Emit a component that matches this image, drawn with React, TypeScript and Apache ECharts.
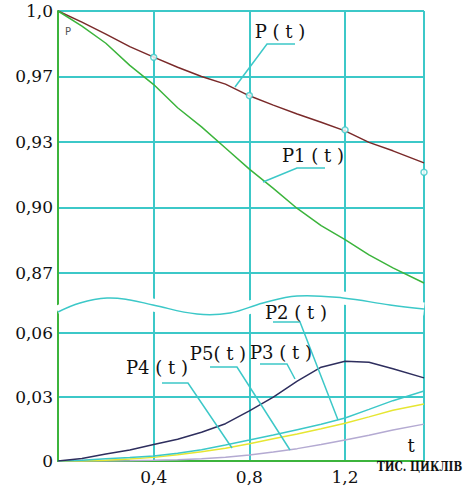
import React, { useEffect, useRef } from "react";
import * as echarts from "echarts";

// time, thousand cycles
const tValues = [0, 0.1, 0.2, 0.3, 0.4, 0.5, 0.6, 0.7, 0.8, 0.9, 1.0, 1.1, 1.2, 1.3, 1.4, 1.53];
const P = [1.0, 0.9945, 0.9885, 0.9823, 0.9771, 0.9721, 0.9675, 0.9637, 0.9579, 0.9533, 0.9489, 0.9448, 0.9405, 0.9348, 0.9306, 0.9246];
const P1 = [1.0, 0.9925, 0.984, 0.973, 0.9635, 0.952, 0.9425, 0.932, 0.9215, 0.912, 0.902, 0.8935, 0.8865, 0.879, 0.8725, 0.865];
const P2 = [0, 0.0004, 0.001, 0.0016, 0.0023, 0.0036, 0.0053, 0.0075, 0.0098, 0.0122, 0.0147, 0.0172, 0.0202, 0.0242, 0.0283, 0.0328];
const P3 = [0, 0.0012, 0.0033, 0.0052, 0.0077, 0.0102, 0.0135, 0.0175, 0.0235, 0.030, 0.0375, 0.044, 0.0468, 0.0463, 0.0433, 0.039];
const P4 = [0, 0, 0.0003, 0.0009, 0.0017, 0.0029, 0.0043, 0.006, 0.0081, 0.0104, 0.0127, 0.0151, 0.0177, 0.0207, 0.0238, 0.0267];
const P5 = [0, 0, 0, 0.0001, 0.0003, 0.0006, 0.0011, 0.0018, 0.0028, 0.0042, 0.0058, 0.0077, 0.0098, 0.0121, 0.0145, 0.0173];
const markerT = [0.4, 0.8, 1.2, 1.53];
const markerP = [0.977, 0.958, 0.941, 0.92];

const xTickValues = [0.4, 0.8, 1.2];
const xTickLabels = ["0,4", "0,8", "1,2"];
const xGridValues = [0.4, 0.8, 1.2, 1.53];
const upperTickValues = [0.87, 0.9025, 0.935, 0.9675, 1.0];
const upperTickLabels = ["0,87", "0,90", "0,93", "0,97", "1,0"];
const lowerTickValues = [0, 0.03, 0.06];
const lowerTickLabels = ["0", "0,03", "0,06"];
const lowerGridValues = [0.03, 0.06];

const SERIF = "DejaVu Serif";
const CYAN = "#3cc8c8";
const GREEN = "#3cb43c";

const lookup = (vals: number[], labels: string[]) => (v: number) => {
  const i = vals.findIndex((x) => Math.abs(x - v) < 1e-6);
  return i >= 0 ? labels[i] : "";
};

const pairs = (ys: number[]) => tValues.map((t, i) => [t, ys[i]]);

export default function App() {
  const ref = useRef<HTMLDivElement>(null);
  useEffect(() => {
    if (!ref.current) return;
    const chart = echarts.init(ref.current, undefined, { renderer: "svg" });
    const wave = [
      [58, 312], [80, 303], [107, 298], [130, 300], [153, 305], [197, 314], [230, 313],
      [263, 303], [297, 296], [343, 298], [390, 305], [424, 309],
    ];
    const labelStyle = (text: string) => ({
      text,
      fontFamily: SERIF,
      fontSize: 18,
      fill: "#111",
      textAlign: "center",
      textVerticalAlign: "middle",
    });
    const leader = (pts: number[][]) => ({
      type: "polyline",
      z: 120,
      shape: { points: pts },
      style: { stroke: CYAN, lineWidth: 1.5, fill: "none" },
    });
    const line = (name: string, ys: number[], color: string, idx: number) => ({
      name,
      type: "line",
      xAxisIndex: idx,
      yAxisIndex: idx,
      data: pairs(ys),
      showSymbol: false,
      symbol: "none",
      lineStyle: { color, width: 1.5 },
      itemStyle: { color },
      z: 5,
    });
    const yLabel = {
      fontFamily: SERIF,
      fontSize: 17,
      color: "#111",
      margin: 5,
    };
    chart.setOption({
      animation: false,
      backgroundColor: "#fff",
      grid: [
        { left: 58, right: 45, top: 11, height: 299 },
        { left: 58, right: 45, top: 306, height: 155 },
      ],
      xAxis: [
        {
          type: "value",
          gridIndex: 0,
          min: 0,
          max: 1.53,
          axisLine: { show: false },
          axisTick: { show: false, customValues: xGridValues },
          axisLabel: { show: false },
          splitLine: { show: true, lineStyle: { color: CYAN, width: 2 } },
        },
        {
          type: "value",
          gridIndex: 1,
          min: 0,
          max: 1.53,
          axisLine: { show: true, onZero: false, lineStyle: { color: GREEN, width: 2 } },
          axisTick: { show: false, customValues: xGridValues },
          axisLabel: {
            customValues: xTickValues,
            formatter: lookup(xTickValues, xTickLabels),
            fontFamily: SERIF,
            fontSize: 17,
            color: "#111",
            margin: 7,
          },
          splitLine: { show: true, lineStyle: { color: CYAN, width: 2 } },
        },
      ],
      yAxis: [
        {
          type: "value",
          gridIndex: 0,
          min: 0.8516,
          max: 1.0,
          axisLine: { show: true, onZero: false, lineStyle: { color: GREEN, width: 2 } },
          axisTick: { show: false, customValues: upperTickValues },
          axisLabel: {
            ...yLabel,
            customValues: upperTickValues,
            formatter: lookup(upperTickValues, upperTickLabels),
          },
          splitLine: { show: true, lineStyle: { color: CYAN, width: 2 } },
        },
        {
          type: "value",
          gridIndex: 1,
          min: 0,
          max: 0.0727,
          axisLine: { show: true, onZero: false, lineStyle: { color: GREEN, width: 2 } },
          axisTick: { show: false, customValues: lowerGridValues },
          axisLabel: {
            ...yLabel,
            customValues: lowerTickValues,
            formatter: lookup(lowerTickValues, lowerTickLabels),
          },
          splitLine: { show: true, lineStyle: { color: CYAN, width: 2 } },
        },
      ],
      series: [
        line("P(t)", P, "#7a2a2a", 0),
        line("P1(t)", P1, GREEN, 0),
        {
          name: "P points",
          type: "scatter",
          xAxisIndex: 0,
          yAxisIndex: 0,
          data: markerT.map((t, i) => [t, markerP[i]]),
          symbol: "circle",
          symbolSize: 6,
          itemStyle: { color: "#fff", borderColor: CYAN, borderWidth: 1.5 },
          z: 6,
        },
        line("P5(t)", P5, "#b4aad2", 1),
        line("P4(t)", P4, "#e6e632", 1),
        line("P2(t)", P2, CYAN, 1),
        line("P3(t)", P3, "#2e2e5e", 1),
      ],
      graphic: [
        {
          type: "polyline",
          z: 100,
          shape: { points: wave, smooth: 0.4 },
          style: { stroke: "#fff", lineWidth: 13, fill: "none" },
        },
        {
          type: "polyline",
          z: 101,
          shape: { points: wave, smooth: 0.4 },
          style: { stroke: CYAN, lineWidth: 1.5, fill: "none" },
        },
        { type: "text", z: 130, x: 280, y: 31, style: labelStyle("P ( t )") },
        { type: "text", z: 130, x: 313, y: 155, style: labelStyle("P1 ( t )") },
        { type: "text", z: 130, x: 296, y: 312, style: labelStyle("P2 ( t )") },
        { type: "text", z: 130, x: 281, y: 352, style: labelStyle("P3 ( t )") },
        { type: "text", z: 130, x: 218, y: 353, style: labelStyle("P5( t )") },
        { type: "text", z: 130, x: 157, y: 367, style: labelStyle("P4 ( t )") },
        leader([[295, 44], [267, 44], [235, 87]]),
        leader([[325, 168], [297, 168], [263, 182]]),
        leader([[273, 322], [300, 322], [338, 420]]),
        leader([[260, 364], [287, 364], [295, 379]]),
        leader([[210, 367], [237, 367], [290, 450]]),
        leader([[162, 383], [188, 383], [232, 448]]),
        {
          type: "text",
          z: 130,
          x: 411,
          y: 445,
          style: { text: "t", fontFamily: SERIF, fontSize: 18, fill: "#111", textAlign: "center", textVerticalAlign: "middle" },
        },
        {
          type: "text",
          z: 130,
          x: 377,
          y: 467,
          scaleX: 0.8,
          style: {
            text: "ТИС. ЦИКЛІВ",
            fontFamily: SERIF,
            fontWeight: "bold",
            fontSize: 13,
            fill: "#111",
            textAlign: "left",
            textVerticalAlign: "middle",
          },
        },
        {
          type: "text",
          z: 130,
          x: 68,
          y: 31,
          style: {
            text: "P",
            fontFamily: "DejaVu Sans",
            fontSize: 10,
            fill: "#555",
            textAlign: "center",
            textVerticalAlign: "middle",
          },
        },
      ],
    });
    return () => chart.dispose();
  }, []);
  return (
    <div
      ref={ref}
      style={{ position: "absolute", left: 0, top: 0, width: 469, height: 486 }}
    />
  );
}
